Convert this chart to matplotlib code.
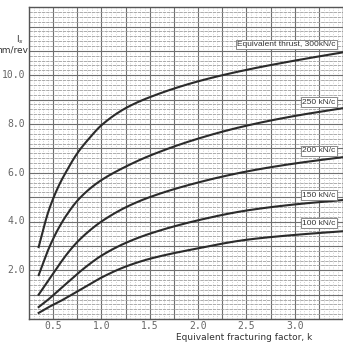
import numpy as np
import matplotlib
matplotlib.use("Agg")
import matplotlib.pyplot as plt
from matplotlib.ticker import MultipleLocator

# equivalent fracturing factor k
k = [0.35, 0.45, 0.55, 0.65, 0.75, 0.875, 1.0, 1.25, 1.5, 2.0, 2.5, 3.0, 3.5]

# penetration per revolution l_s, mm/rev, for each equivalent thrust
ls_300 = [2.95, 4.4, 5.4, 6.15, 6.8, 7.42, 7.95, 8.65, 9.1, 9.75, 10.22, 10.6, 10.94]
ls_250 = [1.8, 2.85, 3.68, 4.33, 4.85, 5.33, 5.7, 6.25, 6.7, 7.4, 7.93, 8.33, 8.65]
ls_200 = [1.0, 1.58, 2.16, 2.7, 3.16, 3.62, 4.0, 4.58, 5.0, 5.6, 6.05, 6.38, 6.64]
ls_150 = [0.49, 0.8, 1.15, 1.5, 1.85, 2.25, 2.6, 3.12, 3.5, 4.05, 4.45, 4.7, 4.88]
ls_100 = [0.25, 0.48, 0.68, 0.9, 1.13, 1.42, 1.7, 2.15, 2.47, 2.9, 3.25, 3.45, 3.6]

curves = [ls_300, ls_250, ls_200, ls_150, ls_100]
labels = ["Equivalent thrust, 300kN/c", "250 kN/c", "200 kN/c",
          "150 kN/c", "100 kN/c"]
label_y = [11.27, 8.9, 6.9, 5.08, 3.93]

xticks = [0.5, 1.0, 1.5, 2.0, 2.5, 3.0]
yticks = [2.0, 4.0, 6.0, 8.0, 10.0]


def pchip(x, y, xs):
    # monotone cubic through the read points, just for a smooth line
    x = np.asarray(x, float)
    y = np.asarray(y, float)
    h = np.diff(x)
    d = np.diff(y) / h
    m = np.zeros_like(y)
    for i in range(1, len(x) - 1):
        if d[i - 1] * d[i] > 0:
            w1 = 2 * h[i] + h[i - 1]
            w2 = h[i] + 2 * h[i - 1]
            m[i] = (w1 + w2) / (w1 / d[i - 1] + w2 / d[i])
    m[0] = d[0]
    m[-1] = d[-1]
    idx = np.clip(np.searchsorted(x, xs) - 1, 0, len(x) - 2)
    t = (xs - x[idx]) / h[idx]
    h00 = 2 * t**3 - 3 * t**2 + 1
    h10 = t**3 - 2 * t**2 + t
    h01 = -2 * t**3 + 3 * t**2
    h11 = t**3 - t**2
    return (h00 * y[idx] + h10 * h[idx] * m[idx]
            + h01 * y[idx + 1] + h11 * h[idx] * m[idx + 1])


fig = plt.figure(figsize=(3.43, 3.42), dpi=100)
ax = fig.add_axes([29 / 343, 1 - 319 / 342, 1 - 29 / 343, 312 / 342])

xs = np.linspace(k[0], k[-1], 300)
for ys in curves:
    ax.plot(xs, pchip(k, ys, xs), color="#2b2b2b", lw=1.5, zorder=3)

box = dict(boxstyle="square,pad=0.15", fc="white", ec="#777777", lw=0.6)
for txt, yy in zip(labels, label_y):
    ax.text(3.42, yy, txt, ha="right", va="center", fontsize=6,
            family="Liberation Sans", color="#333333", bbox=box, zorder=4)

ax.set_xlim(0.25, 3.5)
ax.set_ylim(0, 12.8)
ax.xaxis.set_major_locator(MultipleLocator(0.25))
ax.xaxis.set_minor_locator(MultipleLocator(0.05))
ax.yaxis.set_major_locator(MultipleLocator(1.0))
ax.yaxis.set_minor_locator(MultipleLocator(0.2))
ax.grid(which="major", color="#6f6f6f", lw=0.8)
ax.grid(which="minor", axis="y", color="#a0a0a0", lw=0.6, ls=(0, (4, 1)))
ax.grid(which="minor", axis="x", color="#c4c4c4", lw=0.5, ls=(0, (1.5, 2)))
ax.set_axisbelow(True)
ax.tick_params(which="both", length=0)
ax.set_xticklabels([])
ax.set_yticklabels([])
for s in ax.spines.values():
    s.set_color("#555555")
    s.set_linewidth(1.0)

for xt in xticks:
    ax.text(xt, -0.3, "%.1f" % xt, ha="center", va="center", fontsize=7,
            family="DejaVu Sans Mono", color="#666666", clip_on=False)
for yt in yticks:
    ax.text(0.21, yt, "%.1f" % yt, ha="right", va="center", fontsize=7,
            family="DejaVu Sans Mono", color="#666666", clip_on=False)

fig.text(20 / 343, 1 - 40 / 342, "l$_s$", ha="center", va="center",
         fontsize=6.5, color="#333333")
fig.text(28 / 343, 1 - 50 / 342, "mm/rev", ha="right", va="center",
         fontsize=6.5, color="#333333")
fig.text(244 / 343, 1 - 338 / 342, "Equivalent fracturing factor, k",
         ha="center", va="center", fontsize=6.5, color="#333333")

fig.savefig("out.png", dpi=100)
